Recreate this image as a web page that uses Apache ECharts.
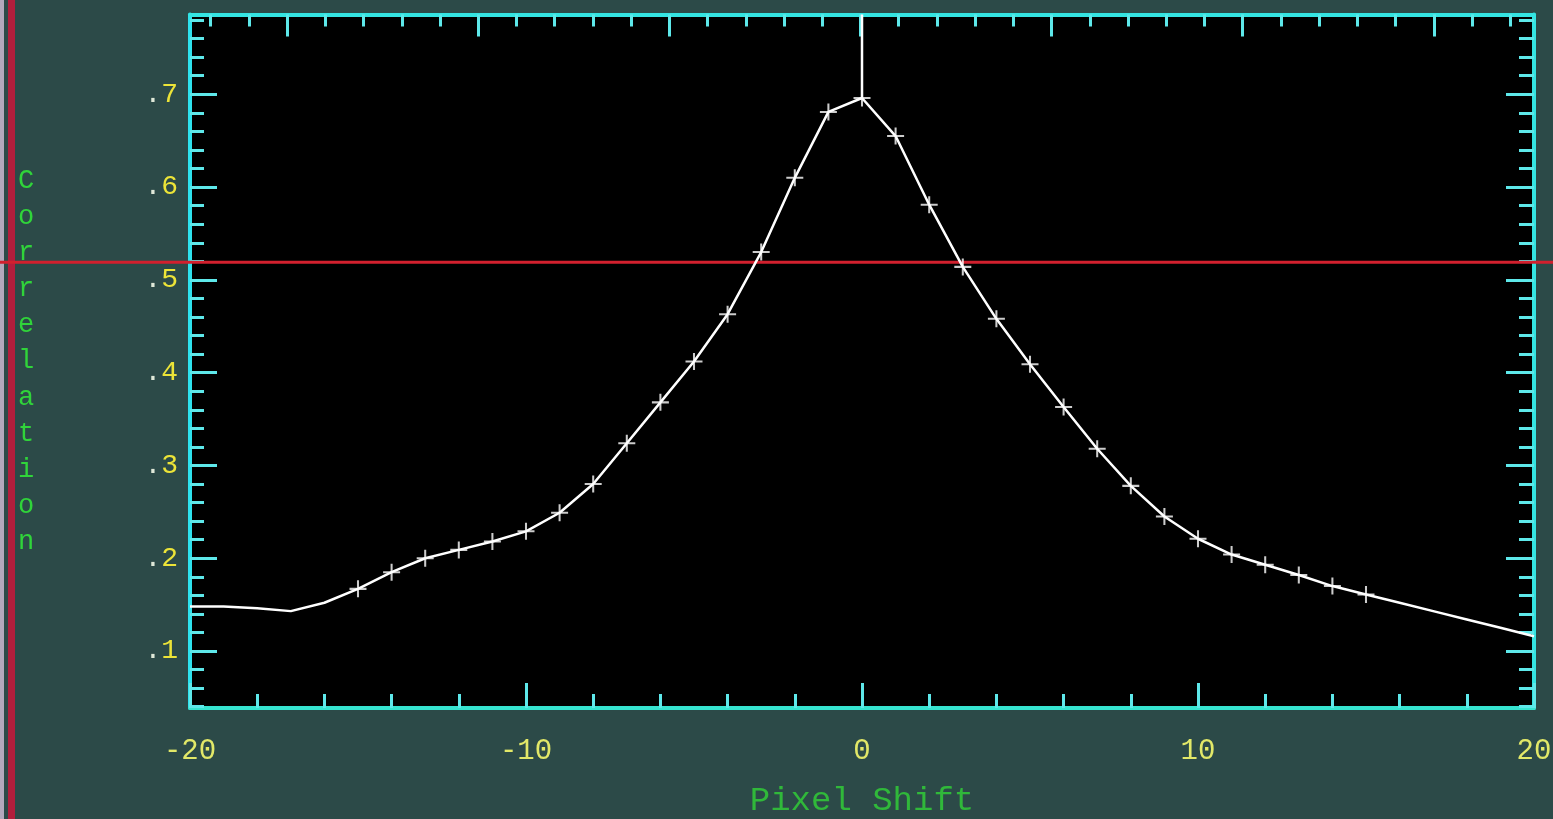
<!DOCTYPE html>
<html><head><meta charset="utf-8">
<script src="https://cdn.jsdelivr.net/npm/echarts@6/dist/echarts.min.js"></script>
<style>html,body{margin:0;padding:0;background:#2c4a48;overflow:hidden}#c{width:1553px;height:819px}</style>
</head><body><div id="c"></div>
<script>
// ---- data ----
const shift = [-20,-19,-18,-17,-16,-15,-14,-13,-12,-11,-10,-9,-8,-7,-6,-5,-4,-3,-2,-1,0,1,2,3,4,5,6,7,8,9,10,11,12,13,14,15,16,17,18,19,20];
const correlation = [0.148,0.148,0.146,0.143,0.152,0.167,0.185,0.200,0.209,0.218,0.229,0.249,0.280,0.324,0.368,0.412,0.463,0.530,0.610,0.681,0.696,0.655,0.581,0.514,0.458,0.409,0.363,0.318,0.278,0.245,0.221,0.204,0.193,0.182,0.170,0.161,0.152,0.143,0.134,0.125,0.116];
const markerRange = [-15, 15];
const threshold = 0.519;
const peakShift = 0;

// ---- axes / ticks ----
const xMin = -20, xMax = 20;
const yMin = 0.0386, yMax = 0.786;
const topMin = -3.508, topMax = 3.524;
const xTickLabels = ['-20','-10','0','10','20'];
const yMajorTicks = [0.1,0.2,0.3,0.4,0.5,0.6,0.7];
const yMajorLabels = ['.1','.2','.3','.4','.5','.6','.7'];
const yMinorTicks = [0.04,0.06,0.08,0.12,0.14,0.16,0.18,0.22,0.24,0.26,0.28,0.32,0.34,0.36,0.38,0.42,0.44,0.46,0.48,0.52,0.54,0.56,0.58,0.62,0.64,0.66,0.68,0.72,0.74,0.76,0.78];
const topMajorTicks = [-3,-2,-1,0,1,2,3];
const topMinorTicks = [-3.4,-3.2,-2.8,-2.6,-2.4,-2.2,-1.8,-1.6,-1.4,-1.2,-0.8,-0.6,-0.4,-0.2,0.2,0.4,0.6,0.8,1.2,1.4,1.6,1.8,2.2,2.4,2.6,2.8,3.2,3.4];
const yTitle = 'Correlation';
const xTitle = 'Pixel Shift';

const lineData = shift.map((s,i)=>[s, correlation[i]]);
const markerData = lineData.filter(p => p[0] >= markerRange[0] && p[0] <= markerRange[1]);
const peakValue = correlation[shift.indexOf(peakShift)];

const CYAN = '#34e4e2', TICK = '#5ee8ea';
const FONT = '"Liberation Mono", "DejaVu Sans Mono", monospace';
const plus = 'path://M0,8.8H20V11.2H0Z M8.8,0H11.2V20H8.8Z';

function tickAxis(pos, min, max, values, len, showLine){
  return {
    type:'value', position:pos, min:min, max:max,
    axisLine:{show:showLine, onZero:false, lineStyle:{color:CYAN, width:4}},
    axisTick:{show:true, inside:true, length:len, customValues:values, lineStyle:{color:TICK, width:3}},
    axisLabel:{show:false}, splitLine:{show:false}, minorTick:{show:false}
  };
}

const chart = echarts.init(document.getElementById('c'), null, {renderer:'canvas'});
const option = {
  backgroundColor:'#2c4a48',
  animation:false,
  grid:{left:190, right:19, top:14.5, bottom:111, show:true, backgroundColor:'#000', borderWidth:0,
        containLabel:false, outerBoundsMode:'none'},
  xAxis:[
    {
      type:'value', position:'bottom', min:xMin, max:xMax, interval:10,
      axisLine:{show:true, onZero:false, lineStyle:{color:'#36e4d0', width:4}},
      axisTick:{show:true, inside:true, length:25, lineStyle:{color:TICK, width:3}},
      minorTick:{show:true, splitNumber:5, length:14, lineStyle:{color:TICK, width:3}},
      splitLine:{show:false},
      axisLabel:{show:true, margin:29, color:'#e2e868', fontFamily:FONT, fontSize:29,
        showMinLabel:true, showMaxLabel:true,
        formatter:(v)=>{ const i=[-20,-10,0,10,20].indexOf(v); return i>=0?xTickLabels[i]:''; }},
      name:xTitle, nameLocation:'middle', nameGap:76,
      nameTextStyle:{color:'#30b83a', fontFamily:FONT, fontSize:34}
    },
    tickAxis('top', topMin, topMax, topMajorTicks, 22, true),
    tickAxis('top', topMin, topMax, topMinorTicks, 12, false)
  ],
  yAxis:[
    {
      type:'value', position:'left', min:yMin, max:yMax,
      axisLine:{show:true, onZero:false, lineStyle:{color:'#2ee2ee', width:4}},
      axisTick:{show:true, inside:true, length:27, customValues:yMajorTicks, lineStyle:{color:TICK, width:3}},
      axisLabel:{show:true, margin:12, customValues:yMajorTicks, fontFamily:FONT, fontSize:28,
        formatter:(v)=>{ const i=yMajorTicks.findIndex(t=>Math.abs(t-v)<1e-6); if(i<0) return ''; const s=yMajorLabels[i]; return '{d|'+s[0]+'}{n|'+s.slice(1)+'}'; },
        rich:{d:{color:'#dfe8d8', fontFamily:FONT, fontSize:28}, n:{color:'#ece438', fontFamily:FONT, fontSize:28}}},
      splitLine:{show:false},
      name:yTitle.split('').join('\n'), nameLocation:'middle', nameRotate:0, nameGap:164,
      nameTextStyle:{color:'#30d43a', fontFamily:FONT, fontSize:27, lineHeight:36.1, align:'center', padding:[12,0,0,0]}
    },
    tickAxis('left', yMin, yMax, yMinorTicks, 14, false),
    tickAxis('right', yMin, yMax, yMajorTicks, 28, true),
    tickAxis('right', yMin, yMax, yMinorTicks, 15, false)
  ],
  series:[
    {type:'line', xAxisIndex:0, yAxisIndex:0, data:lineData, showSymbol:false, symbol:'none',
     lineStyle:{color:'#ffffff', width:2.5}, z:3},
    {type:'scatter', xAxisIndex:0, yAxisIndex:0, data:markerData, symbol:plus, symbolSize:17,
     itemStyle:{color:'#ffffff'}, z:4},
    {type:'line', xAxisIndex:0, yAxisIndex:0, data:[[peakShift, yMax],[peakShift, peakValue]], showSymbol:false, symbol:'none',
     lineStyle:{color:'#ffffff', width:2.5}, z:3}
  ]
};
chart.setOption(option);

const ty = chart.convertToPixel({yAxisIndex:0}, threshold);
chart.setOption({
  graphic:[
    {type:'rect', shape:{x:0, y:0, width:4, height:819}, style:{fill:'#b4a8bc'}, z:1},
    {type:'rect', shape:{x:8, y:0, width:7, height:819}, style:{fill:'#b21e3c'}, z:1},
    {type:'line', shape:{x1:0, y1:ty, x2:1553, y2:ty}, style:{stroke:'#d2202e', lineWidth:3}, z:1}
  ]
});
</script>
</body></html>
